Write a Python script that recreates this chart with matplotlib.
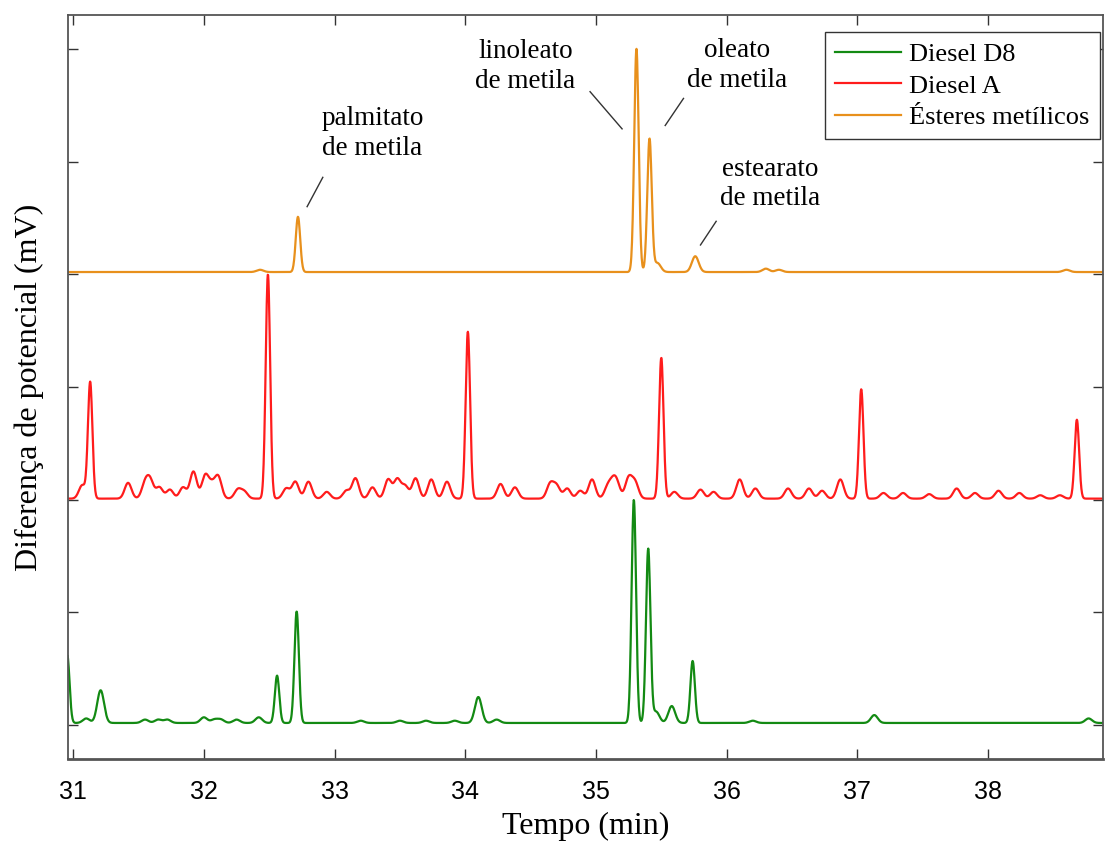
import numpy as np
import matplotlib.pyplot as plt

# peak tables (retention time in min, height above baseline)
d8_base = 0.02
d8_times = [30.955, 31.10, 31.21, 31.55, 31.65, 31.72, 32.00, 32.08, 32.13, 32.25, 32.42,
            32.56, 32.71, 33.20, 33.50, 33.70, 33.92, 34.10, 34.24, 35.29, 35.40, 35.46,
            35.58, 35.74, 36.20, 37.13, 38.77]
d8_heights = [0.60, 0.04, 0.29, 0.03, 0.03, 0.03, 0.05, 0.03, 0.03, 0.03, 0.05,
              0.42, 0.99, 0.02, 0.02, 0.02, 0.02, 0.23, 0.03, 1.98, 1.54, 0.10,
              0.15, 0.55, 0.02, 0.07, 0.04]

a_base = 2.01
a_times = [31.07, 31.13, 31.42, 31.55, 31.59, 31.66, 31.74, 31.84, 31.92, 32.01, 32.06,
           32.11, 32.26, 32.31, 32.49, 32.63, 32.70, 32.80, 32.94, 33.09, 33.16, 33.29,
           33.41, 33.48, 33.54, 33.62, 33.74, 33.86, 34.02, 34.27, 34.38, 34.65, 34.70,
           34.78, 34.88, 34.97, 35.09, 35.13, 35.16, 35.25, 35.30, 35.50, 35.60, 35.80,
           35.90, 36.10, 36.22, 36.47, 36.63, 36.73, 36.87, 37.03, 37.20, 37.35, 37.55,
           37.76, 37.90, 38.08, 38.24, 38.40, 38.55, 38.68]
a_heights = [0.12, 1.03, 0.14, 0.13, 0.15, 0.10, 0.08, 0.10, 0.24, 0.20, 0.11,
             0.19, 0.08, 0.06, 1.99, 0.09, 0.15, 0.15, 0.06, 0.07, 0.18, 0.10,
             0.17, 0.17, 0.11, 0.18, 0.17, 0.15, 1.48, 0.13, 0.10, 0.13, 0.11,
             0.09, 0.07, 0.17, 0.10, 0.11, 0.12, 0.18, 0.14, 1.25, 0.06, 0.08,
             0.06, 0.17, 0.09, 0.09, 0.09, 0.07, 0.17, 0.97, 0.05, 0.05, 0.04,
             0.09, 0.05, 0.07, 0.05, 0.03, 0.03, 0.70]

est_base = 4.02
est_times = [32.43, 32.72, 35.31, 35.41, 35.47, 35.76, 36.30, 36.40, 38.60]
est_heights = [0.02, 0.49, 1.98, 1.18, 0.08, 0.14, 0.03, 0.02, 0.02]

labels = ["Diesel D8", "Diesel A", "Ésteres metílicos"]
colors = ["#138a13", "#ff1c1c", "#e8901c"]

# annotations: text, text position, line start, line end
notes = [
    ("palmitato\nde metila", (33.29, 5.25), (32.91, 4.86), (32.79, 4.60)),
    ("linoleato\nde metila", (34.46, 5.84), (34.955, 5.62), (35.20, 5.29)),
    ("oleato\nde metila", (36.08, 5.85), (35.67, 5.56), (35.53, 5.32)),
    ("estearato\nde metila", (36.33, 4.80), (35.92, 4.47), (35.80, 4.26)),
]


def trace(t, base, times, heights):
    y = np.full_like(t, base)
    for t0, h in zip(times, heights):
        s = 0.017 if h > 0.3 else 0.026
        y += h * np.exp(-0.5 * ((t - t0) / s) ** 2)
    return y


t = np.linspace(30.955, 38.9, 3000)
series = [trace(t, d8_base, d8_times, d8_heights),
          trace(t, a_base, a_times, a_heights),
          trace(t, est_base, est_times, est_heights)]

serif = "Liberation Serif"

fig = plt.figure(figsize=(11.05, 8.43), dpi=100)
ax = fig.add_axes([0.0615, 0.0996, 0.9367, 0.8826])

for y, c, lab in zip(series, colors, labels):
    ax.plot(t, y, color=c, lw=1.6, label=lab)

ax.set_xlim(30.96, 38.88)
ax.set_ylim(-0.3, 6.3)
ax.set_xticks(range(31, 39))
ax.set_yticks(range(0, 7))
ax.set_yticklabels([])
ax.tick_params(direction="in", length=7, width=1, color="#333333",
               top=True, right=True, labelsize=18)
for lab in ax.get_xticklabels():
    lab.set_family("Liberation Sans")
ax.tick_params(axis="x", pad=15)
for sp in ax.spines.values():
    sp.set_color("#555555")
    sp.set_linewidth(1.3)
ax.spines["bottom"].set_linewidth(2)

ax.set_xlabel("Tempo (min)", family=serif, fontsize=23, labelpad=6)
ax.set_ylabel("Diferença de potencial (mV)", family=serif, fontsize=23, labelpad=14)

for txt, pos, p1, p2 in notes:
    ax.text(pos[0], pos[1], txt, family=serif, fontsize=19.5, ha="center", va="center",
            linespacing=1.25)
    ax.plot([p1[0], p2[0]], [p1[1], p2[1]], color="#333333", lw=1)

leg = ax.legend(loc="upper right", bbox_to_anchor=(0.997, 0.977), borderaxespad=0,
                prop={"family": serif, "size": 19}, fancybox=False, framealpha=1,
                edgecolor="#333333", handlelength=2.5, handletextpad=0.3,
                labelspacing=0.3, borderpad=0.4)
leg.get_frame().set_linewidth(1)

fig.savefig("out.png", dpi=100)
